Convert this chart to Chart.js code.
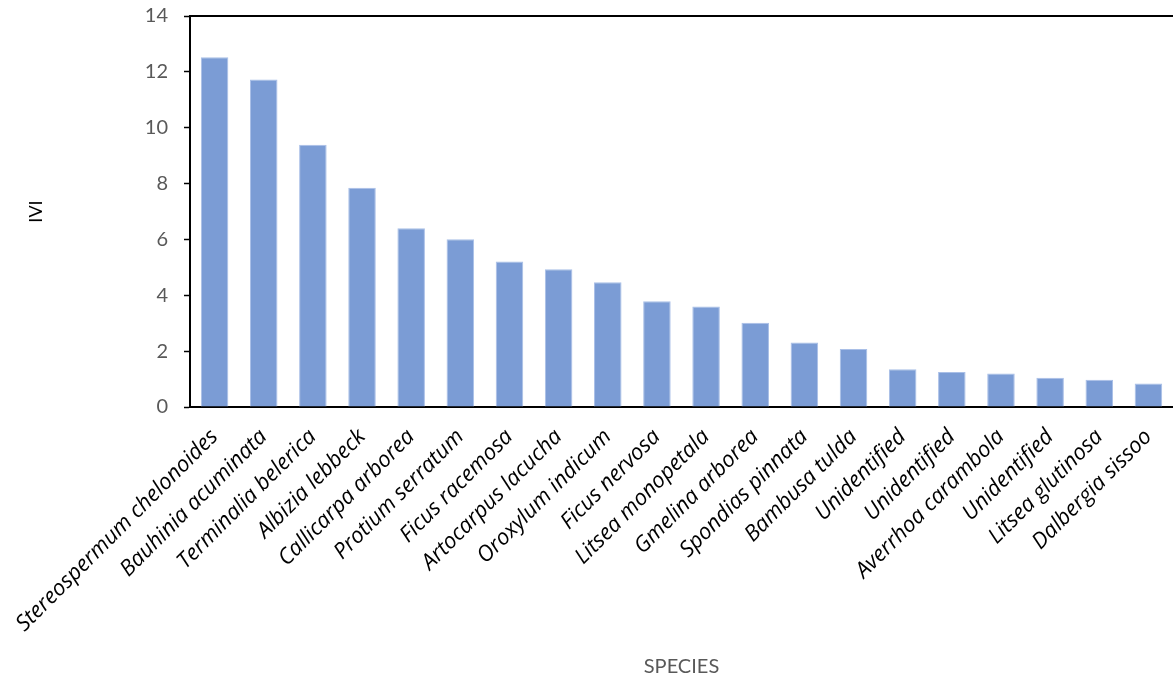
<!DOCTYPE html>
<html>
<head>
<meta charset="utf-8">
<style>
  html, body { margin: 0; padding: 0; background: #ffffff; }
  #wrap { width: 1173px; height: 684px; }
</style>
<script src="https://cdn.jsdelivr.net/npm/chart.js@4/dist/chart.umd.min.js"></script>
</head>
<body>
<div id="wrap"><canvas id="ivi"></canvas></div>
<script>
// Importance value index (IVI) by species
const species = [
  'Stereospermum chelonoides', 'Bauhinia acuminata', 'Terminalia belerica',
  'Albizia lebbeck', 'Callicarpa arborea', 'Protium serratum',
  'Ficus racemosa', 'Artocarpus lacucha', 'Oroxylum indicum',
  'Ficus nervosa', 'Litsea monopetala', 'Gmelina arborea',
  'Spondias pinnata', 'Bambusa tulda', 'Unidentified', 'Unidentified',
  'Averrhoa carambola', 'Unidentified', 'Litsea glutinosa', 'Dalbergia sissoo'
];
const iviValues = [
  12.52, 11.73, 9.39, 7.85, 6.40, 6.01, 5.21, 4.93, 4.47, 3.79,
  3.60, 3.02, 2.31, 2.08, 1.35, 1.25, 1.20, 1.05, 0.98, 0.84
];
const yTicks = [0, 2, 4, 6, 8, 10, 12, 14];

const numFont = "Lato, 'Open Sans', sans-serif";
const nameFont = "'Open Sans', 'Noto Sans', sans-serif";

// horizontal scales run to the right edge of the canvas
const noSidePadding = (scale) => {
  scale.paddingLeft = 0;
  scale.paddingRight = 0;
};

new Chart(document.getElementById('ivi'), {
  type: 'bar',
  data: {
    labels: species,
    datasets: [{
      label: 'IVI',
      data: iviValues,
      backgroundColor: '#7b9cd5',
      borderColor: '#a9bfe7',
      borderWidth: 1,
      barPercentage: 0.56,
      categoryPercentage: 1.0
    }]
  },
  options: {
    responsive: true,
    maintainAspectRatio: false,
    animation: false,
    layout: { padding: { top: 16, right: -1, bottom: 0, left: 0 } },
    plugins: {
      legend: { display: false },
      tooltip: { enabled: false }
    },
    scales: {
      x: {
        grid: { display: false, drawTicks: false },
        border: { display: true, color: '#000000', width: 2 },
        ticks: {
          autoSkip: false,
          maxRotation: 45,
          minRotation: 45,
          padding: 17,
          color: '#000000',
          font: { family: nameFont, size: 22, style: 'italic' }
        },
        title: {
          display: true,
          text: 'SPECIES',
          color: '#595959',
          font: { family: numFont, size: 20 },
          padding: { top: 0, bottom: 5 }
        },
        afterFit: (scale) => {
          scale.height = 277;
          noSidePadding(scale);
        }
      },
      // frame line along the top of the plot
      xTop: {
        type: 'category',
        position: 'top',
        labels: species,
        grid: { display: false, drawTicks: false },
        ticks: { display: false },
        border: { display: true, color: '#000000', width: 2 },
        afterFit: (scale) => {
          scale.height = 0;
          noSidePadding(scale);
        }
      },
      y: {
        min: 0,
        max: 14,
        afterBuildTicks: (scale) => { scale.ticks = yTicks.map(v => ({ value: v })); },
        grid: {
          drawOnChartArea: false,
          drawTicks: true,
          tickLength: 6,
          tickColor: '#000000',
          tickWidth: 1.5
        },
        border: { display: true, color: '#000000', width: 2 },
        ticks: {
          padding: 16,
          color: '#595959',
          font: { family: numFont, size: 20 }
        },
        title: {
          display: true,
          text: 'IVI',
          color: '#000000',
          font: { family: numFont, size: 18 },
          padding: { top: 25, bottom: 0 }
        },
        afterFit: (scale) => {
          scale.width = 190;
          scale.paddingTop = 0;
          scale.paddingBottom = 0;
        }
      }
    }
  }
});
</script>
</body>
</html>
